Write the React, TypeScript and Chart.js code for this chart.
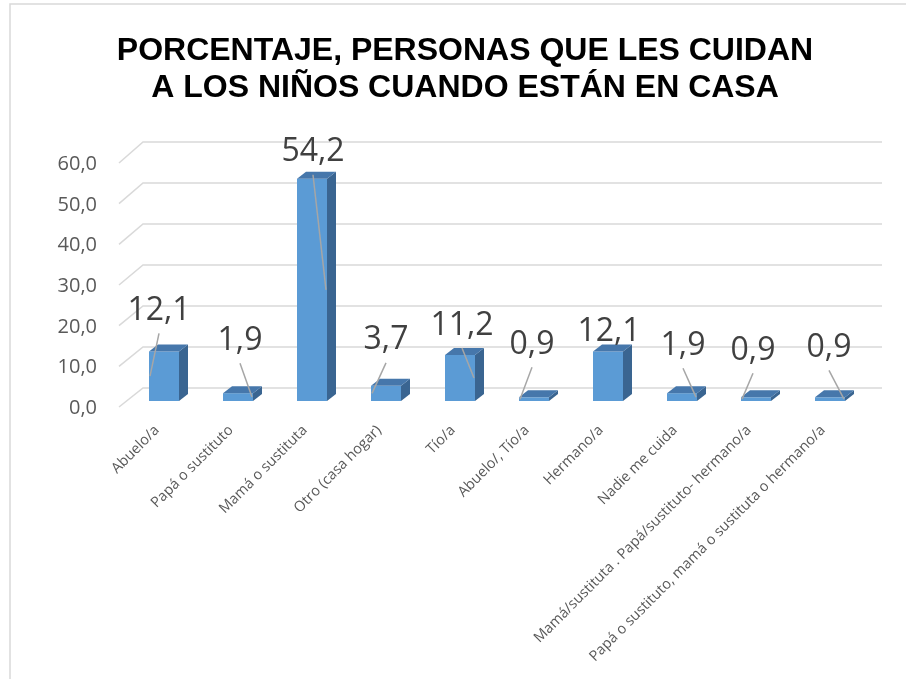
import React, { useEffect, useRef } from "react";
import { Chart, registerables } from "chart.js";

Chart.register(...registerables);

// ---- data ----
const categories = [
  "Abuelo/a",
  "Papá o sustituto",
  "Mamá o sustituta",
  "Otro (casa hogar)",
  "Tío/a",
  "Abuelo/, Tío/a",
  "Hermano/a",
  "Nadie me cuida",
  "Mamá/sustituta . Papá/sustituto- hermano/a",
  "Papá o sustituto, mamá o sustituta o hermano/a",
];
const values = [12.1, 1.9, 54.2, 3.7, 11.2, 0.9, 12.1, 1.9, 0.9, 0.9];
const yTicks = [0, 10, 20, 30, 40, 50, 60];
const titleLines = [
  "PORCENTAJE, PERSONAS QUE LES CUIDAN",
  "A LOS NIÑOS CUANDO ESTÁN EN CASA",
];

// ---- layout (label placement relative to bar) ----
const labelOffsets: [number, number][] = [
  [-5, -43], [2, -55], [1, -29], [0, -48], [2, -32],
  [-2, -55], [1, -22], [1, -50], [-3, -49], [-1, -52],
];
const leaderSides = [-1, 1, 1, -1, 1, -1, 0, 1, -1, 1];

const fmt = (v: number) => v.toFixed(1).replace(".", ",");

const FRONT = "#5b9bd5";
const SIDE = "#3a6591";
const TOP = "#4677ab";
const GRID = "#d9d9d9";

const excel3d = {
  id: "excel3d",
  beforeDraw(chart: any) {
    const ctx = chart.ctx as CanvasRenderingContext2D;
    ctx.save();
    ctx.fillStyle = "#ffffff";
    ctx.fillRect(0, 0, chart.width, chart.height);
    // outer border
    ctx.strokeStyle = GRID;
    ctx.lineWidth = 1.5;
    ctx.strokeRect(10, 4, 1400, 1400);
    // title
    ctx.fillStyle = "#000000";
    ctx.font = "bold 32px 'Liberation Sans', Arial, sans-serif";
    ctx.textAlign = "center";
    ctx.textBaseline = "alphabetic";
    ctx.fillText(titleLines[0], 465, 60);
    ctx.fillText(titleLines[1], 465, 97);

    // grid + y labels
    const ys = chart.scales.y;
    const y0 = ys.getPixelForValue(0);
    for (const t of yTicks) {
      const py = ys.getPixelForValue(t);
      const back = py - 13;
      const front = y0 + 6 + (py - y0) * 0.992;
      ctx.strokeStyle = GRID;
      ctx.lineWidth = 1.5;
      ctx.beginPath();
      ctx.moveTo(119, front);
      ctx.lineTo(143, back);
      ctx.lineTo(882, back);
      ctx.stroke();
      ctx.fillStyle = "#595959";
      ctx.font = "20px 'Open Sans', sans-serif";
      ctx.textAlign = "right";
      ctx.textBaseline = "alphabetic";
      ctx.fillText(fmt(t), 97, front + 7);
    }

    // x labels
    const xs = chart.scales.x;
    ctx.font = "14.5px 'Open Sans', sans-serif";
    ctx.fillStyle = "#595959";
    categories.forEach((c, i) => {
      const px = xs.getPixelForValue(i);
      ctx.save();
      ctx.translate(px - 7, y0 + 27);
      ctx.rotate(-Math.PI / 4);
      ctx.textAlign = "right";
      ctx.textBaseline = "middle";
      ctx.fillText(c, 0, 0);
      ctx.restore();
    });
    ctx.restore();
  },
  afterDatasetsDraw(chart: any) {
    const ctx = chart.ctx as CanvasRenderingContext2D;
    const meta = chart.getDatasetMeta(0);
    ctx.save();
    const dx = 9;
    const dy = 7;
    meta.data.forEach((bar: any) => {
      const { x, y, base, width } = bar.getProps(["x", "y", "base", "width"], true);
      const l = x - width / 2;
      const r = x + width / 2;
      ctx.fillStyle = SIDE;
      ctx.beginPath();
      ctx.moveTo(r, y);
      ctx.lineTo(r + dx, y - dy);
      ctx.lineTo(r + dx, base - dy);
      ctx.lineTo(r, base);
      ctx.closePath();
      ctx.fill();
      ctx.fillStyle = TOP;
      ctx.beginPath();
      ctx.moveTo(l, y);
      ctx.lineTo(l + dx, y - dy);
      ctx.lineTo(r + dx, y - dy);
      ctx.lineTo(r, y);
      ctx.closePath();
      ctx.fill();
    });

    // data labels with leader lines
    meta.data.forEach((bar: any, i: number) => {
      const { x, y, base, width } = bar.getProps(["x", "y", "base", "width"], true);
      const [ox, oy] = labelOffsets[i];
      const cx = x + ox;
      const cy = y + oy;
      const side = leaderSides[i];
      if (side !== 0) {
        ctx.strokeStyle = "#a6a6a6";
        ctx.lineWidth = 1.5;
        ctx.beginPath();
        ctx.moveTo(cx, cy + 25);
        ctx.lineTo(x + side * (width / 2 - 1), (y + base) / 2);
        ctx.stroke();
      }
      ctx.fillStyle = "#404040";
      ctx.font = "32px 'Open Sans', sans-serif";
      ctx.textAlign = "center";
      ctx.textBaseline = "alphabetic";
      ctx.fillText(fmt(values[i]), cx, cy + 11.5);
    });
    ctx.restore();
  },
};

export default function App() {
  const ref = useRef<HTMLCanvasElement | null>(null);
  useEffect(() => {
    if (!ref.current) return;
    const chart = new Chart(ref.current, {
      type: "bar",
      data: {
        labels: categories,
        datasets: [
          {
            data: values,
            backgroundColor: FRONT,
            borderWidth: 0,
            barPercentage: 30 / 74,
            categoryPercentage: 1,
          },
        ],
      },
      options: {
        animation: false,
        responsive: false,
        devicePixelRatio: 1,
        layout: { padding: { left: 127, right: 39, top: 155, bottom: 278 } },
        scales: {
          x: { display: false, offset: true },
          y: { display: false, min: 0, max: 60 },
        },
        plugins: {
          legend: { display: false },
          title: { display: false },
          tooltip: { enabled: false },
        },
      },
      plugins: [excel3d],
    });
    return () => chart.destroy();
  }, []);
  return (
    <canvas
      ref={ref}
      width={906}
      height={679}
      style={{ position: "fixed", left: 0, top: 0, width: 906, height: 679 }}
    />
  );
}
